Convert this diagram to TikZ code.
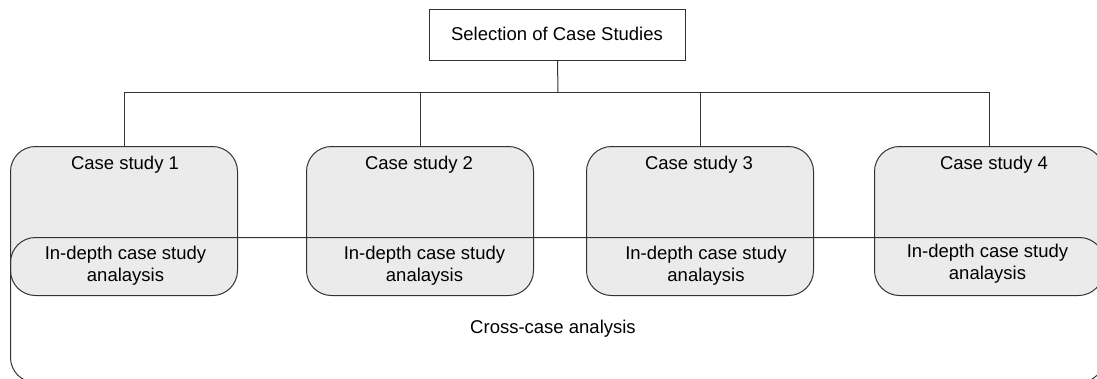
\documentclass[tikz,border=0pt]{standalone}
\usepackage{fontspec}
\setmainfont{Liberation Sans}
\begin{document}
\begin{tikzpicture}[x=1pt,y=-1pt,
  every node/.style={font=\fontsize{18.5}{22}\selectfont, text=black},
  line/.style={draw=black!80, line width=1pt},
  casebox/.style={line, fill=black!8, rounded corners=25pt, minimum width=227pt,
    minimum height=149pt, inner sep=0pt, anchor=north west},
  topbox/.style={line, fill=white, minimum width=256pt, minimum height=51pt,
    inner sep=0pt, anchor=north west},
  crossbox/.style={line, rounded corners=25pt, minimum width=1094pt,
    minimum height=145pt, inner sep=0pt, anchor=north west},
  txt/.style={inner sep=0pt, align=center}
]
\useasboundingbox (0,0) rectangle (1097,378);
\clip (0,0) rectangle (1097,378);

% top-level box
\node[topbox] (sel) at (429,9) {};
\node[txt] (selt) at (557,34) {Selection of Case Studies};

% the four case studies
\node[casebox] (c1) at (10,146) {};
\node[casebox] (c2) at (306,146) {};
\node[casebox] (c3) at (586,146) {};
\node[casebox, minimum width=229pt] (c4) at (874,146) {};

\node[txt] (c1t) at (125,165) {Case study 1};
\node[txt] (c2t) at (419,165) {Case study 2};
\node[txt] (c3t) at (699,165) {Case study 3};
\node[txt] (c4t) at (994,165) {Case study 4};

\node[txt] (c1a) at (125.5,266) {In-depth case study\\analaysis};
\node[txt] (c2a) at (424.5,266) {In-depth case study\\analaysis};
\node[txt] (c3a) at (706,266) {In-depth case study\\analaysis};
\node[txt] (c4a) at (987.5,264) {In-depth case study\\analaysis};

% cross-case frame drawn over the case boxes
\node[crossbox] (cross) at (10,237) {};
\node[txt] (crosst) at (553,329) {Cross-case analysis};

% tree connectors
\coordinate (bus) at (558,92);
\draw[line] (sel.south) -- (bus);
\draw[line] (c1.north) -- (c1.north |- bus) -- (c4.north |- bus) -- (c4.north);
\draw[line] (c2.north) -- (c2.north |- bus);
\draw[line] (c3.north) -- (c3.north |- bus);
\end{tikzpicture}
\end{document}
